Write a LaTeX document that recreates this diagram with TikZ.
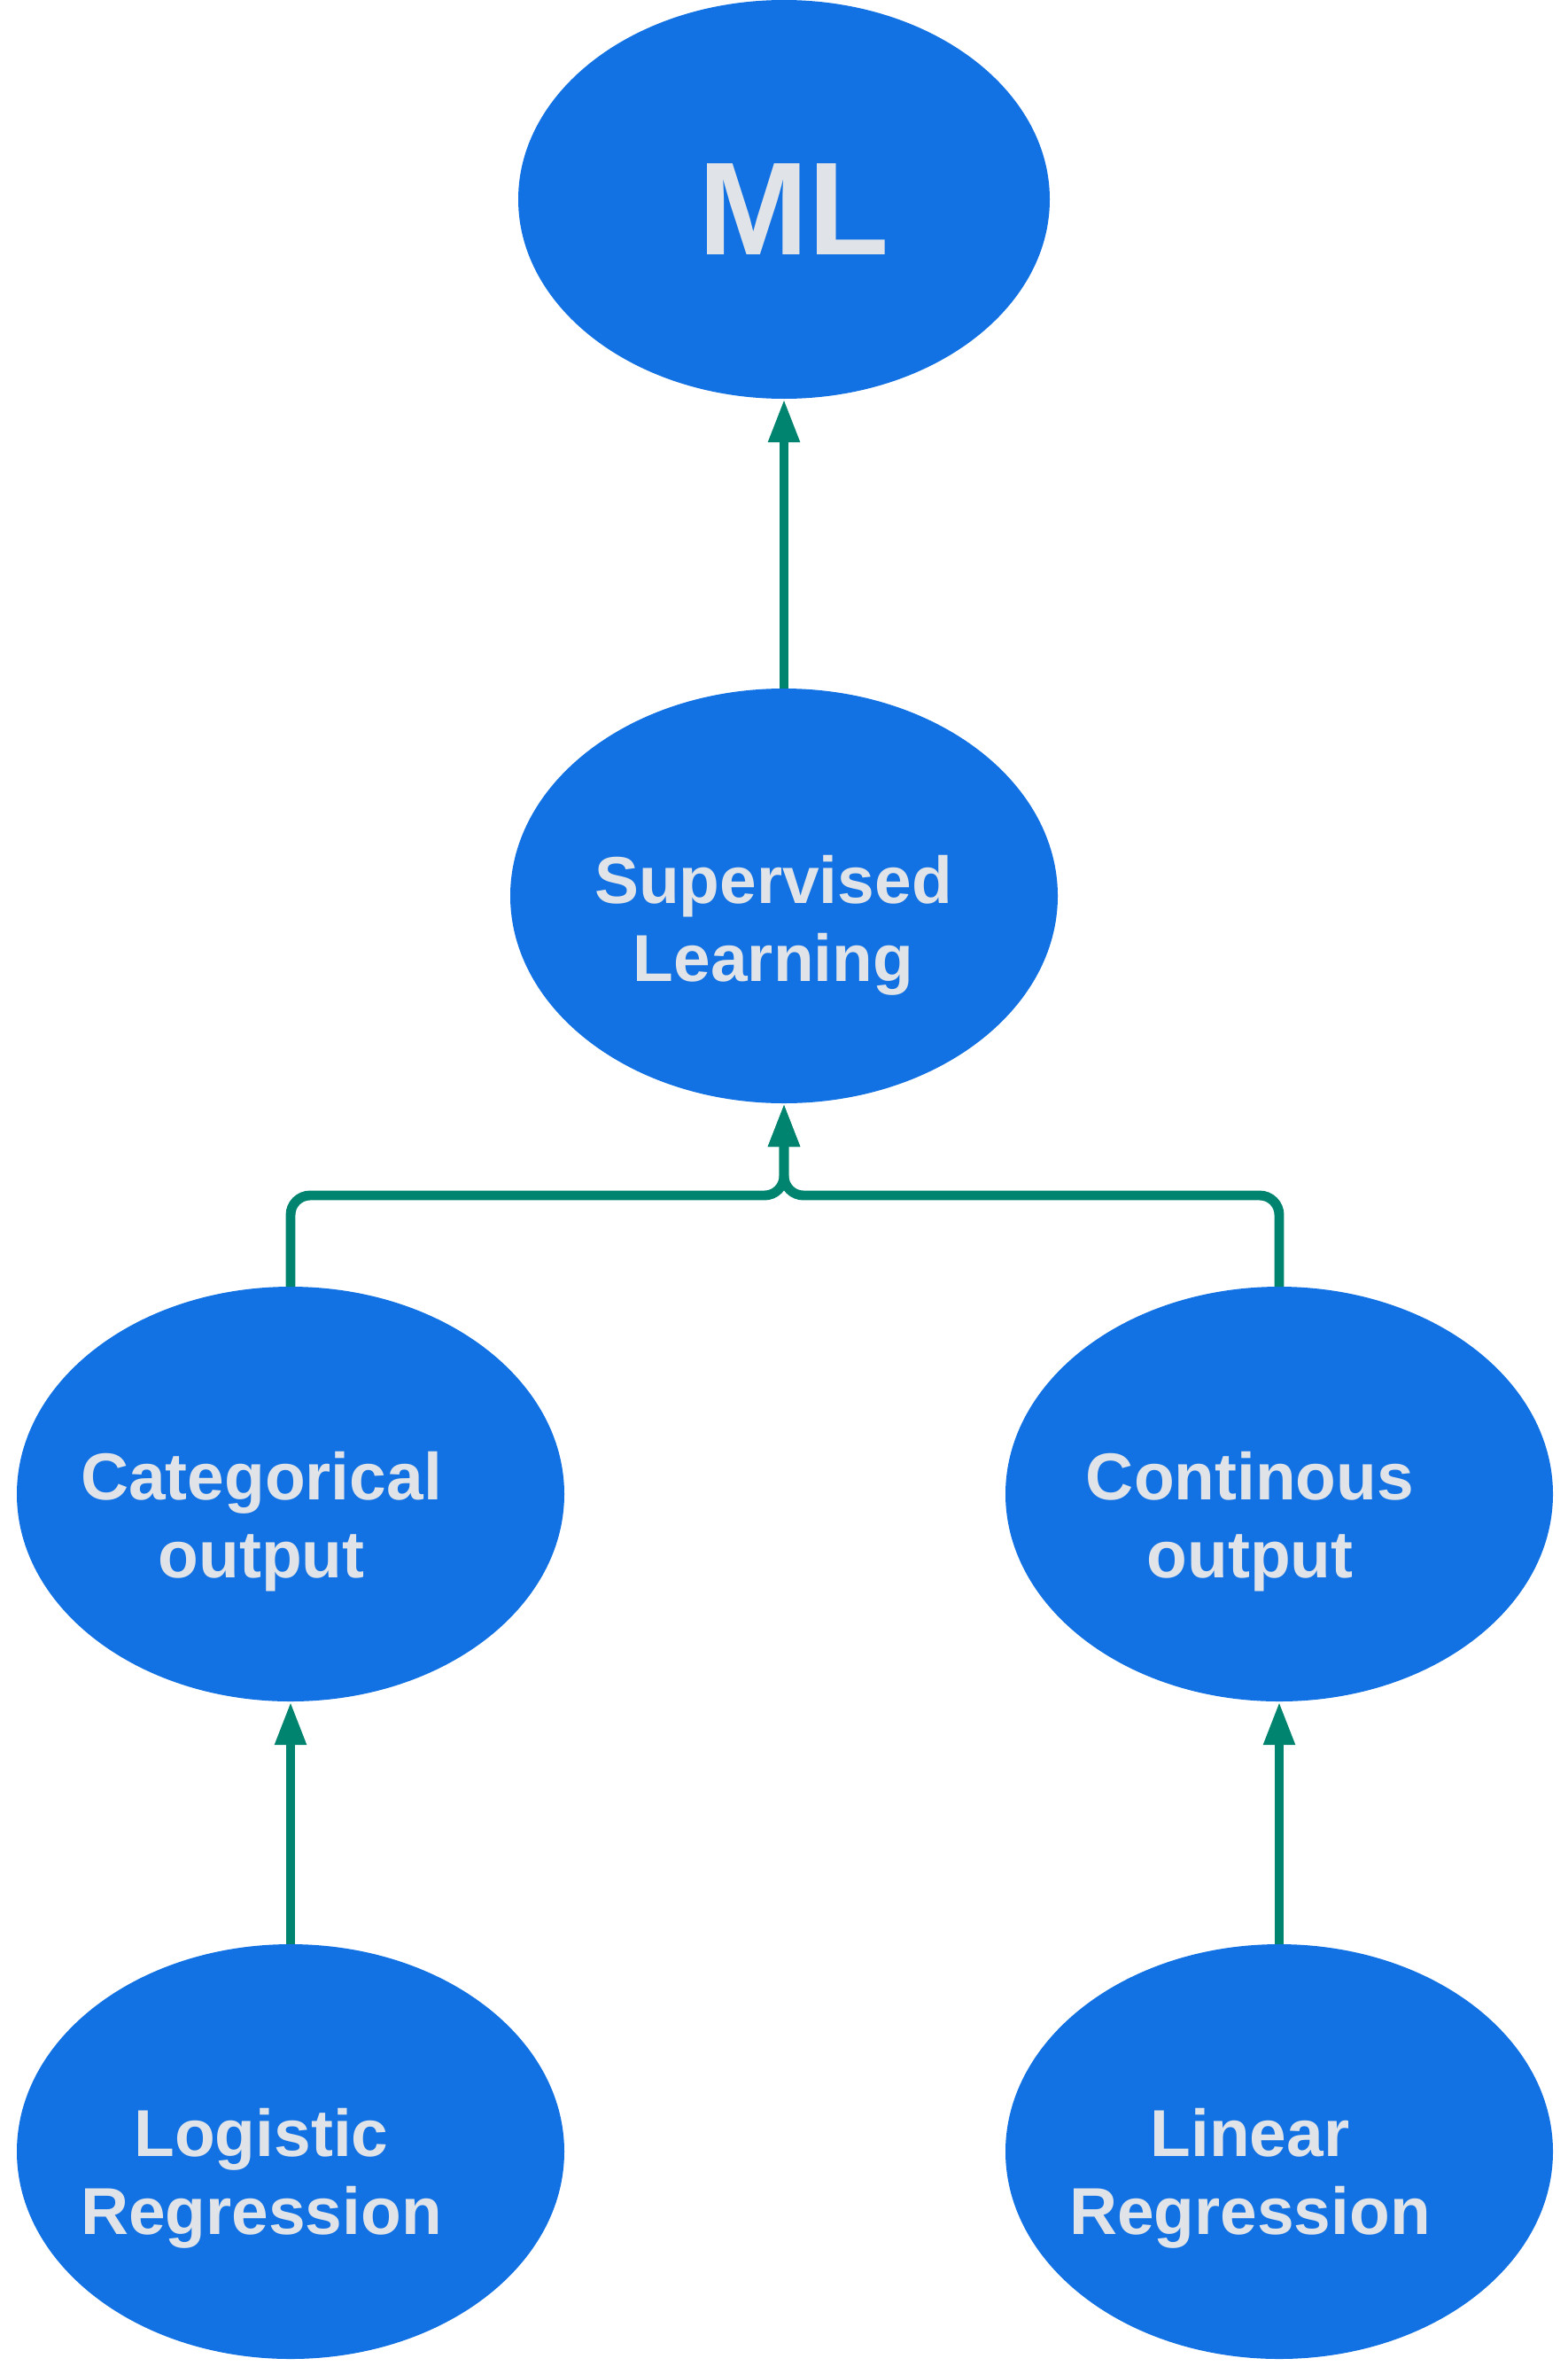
\documentclass[tikz,border=0pt]{standalone}
\usepackage{fontspec}
\setmainfont{Liberation Sans}
\usetikzlibrary{shapes.geometric,arrows.meta}

\definecolor{mlblue}{RGB}{18,114,227}
\definecolor{linkteal}{RGB}{0,132,111}
\definecolor{lbltext}{RGB}{224,227,232}

\tikzset{
    blob/.style={ellipse, fill=mlblue, draw=none, inner sep=0pt, outer sep=0pt,
        minimum width=6.18cm, minimum height=4.68cm},
    lbl/.style={text=lbltext, align=center, font=\fontsize{21.3}{25}\selectfont\bfseries},
    link/.style={draw=linkteal, line width=3.1pt, rounded corners=0.22cm,
        -{Triangle[length=4.9mm,width=3.3mm]}}
}

\begin{document}
\begin{tikzpicture}[x=1cm, y=-1cm]
        \useasboundingbox (0,0) rectangle (17.70,26.79);

	\node[blob, minimum width=6.0cm, minimum height=4.5cm] (ml) at (8.85,2.25) {};
	\node[blob] (sup) at (8.85,10.11) {};
	\node[blob] (cat) at (3.28,16.86) {};
	\node[blob] (cont) at (14.44,16.86) {};
	\node[blob] (logreg) at (3.28,24.28) {};
	\node[blob] (linreg) at (14.44,24.28) {};

	\node[lbl, font=\fontsize{42.5}{50}\selectfont\bfseries] (mltext) at ([shift={(0.11,0.11)}]ml.center) {ML};
	\node[lbl] (suptext) at ([shift={(-0.12,0.33)}]sup.center) {Supervised\\Learning};
	\node[lbl] (cattext) at ([shift={(-0.33,0.31)}]cat.center) {Categorical\\output};
	\node[lbl] (conttext) at ([shift={(-0.33,0.31)}]cont.center) {Continous\\output};
	\node[lbl] (logtext) at ([shift={(-0.33,0.30)}]logreg.center) {Logistic\\Regression};
	\node[lbl] (lintext) at ([shift={(-0.33,0.30)}]linreg.center) {Linear\\Regression};

	\draw[link] (sup.north) -- (ml.south);

	\draw[link] (cat.north) |- (8.85,13.49) -- (sup.south);
	\draw[link] (cont.north) |- (8.85,13.49) -- (sup.south);

	\draw[link] (logreg.north) -- (cat.south);
	\draw[link] (linreg.north) -- (cont.south);

\end{tikzpicture}
\end{document}
